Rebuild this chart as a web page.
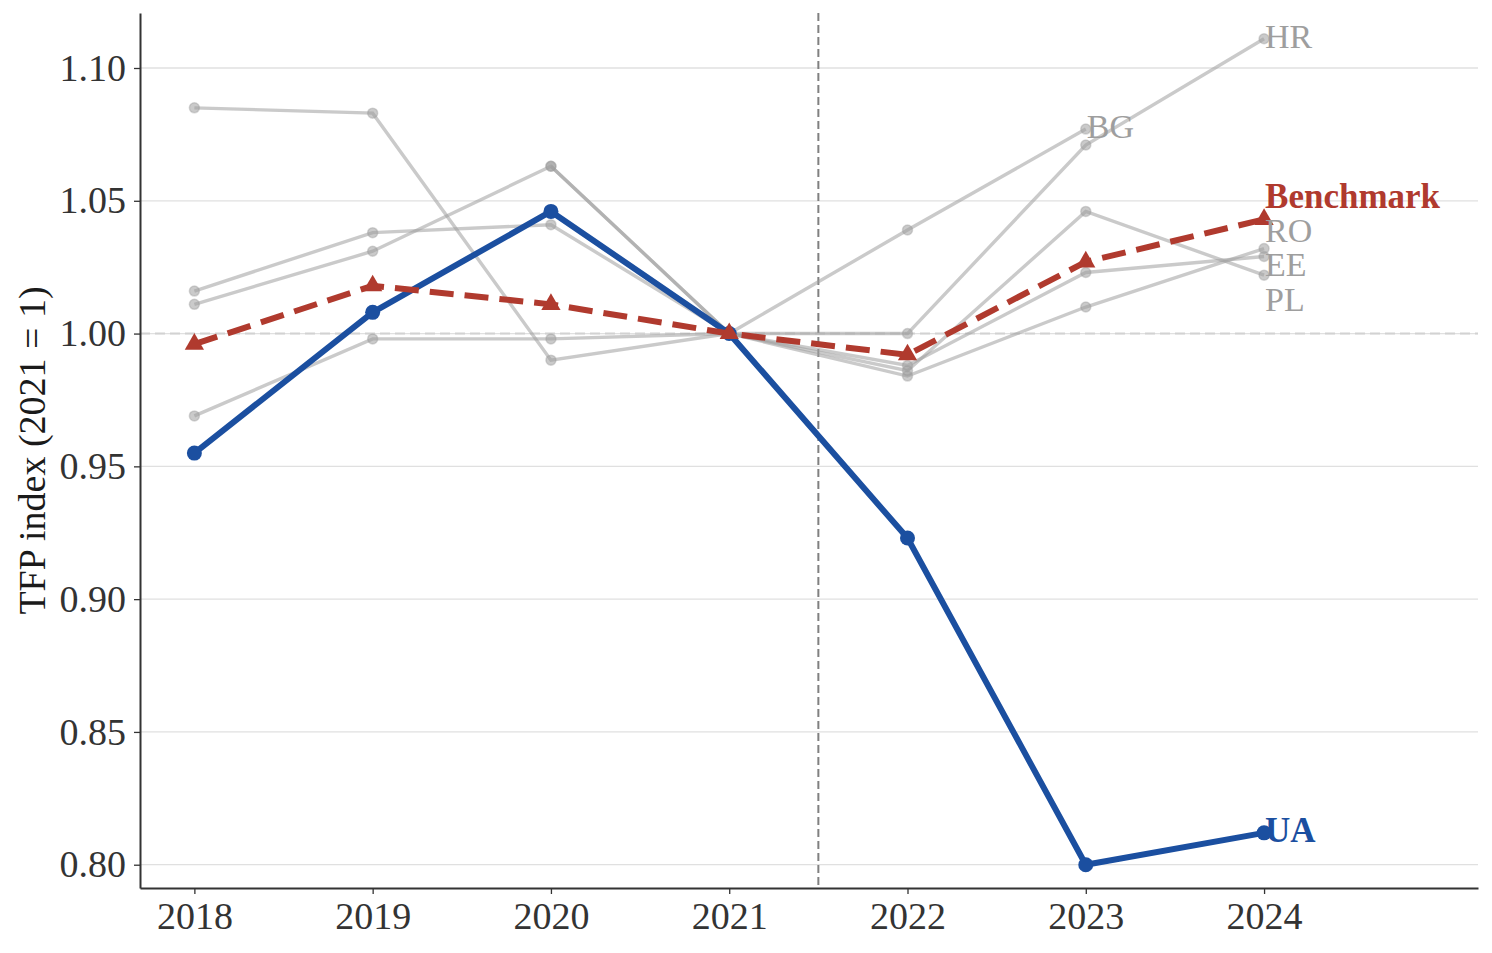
<!DOCTYPE html>
<html>
<head>
<meta charset="utf-8">
<script src="https://cdn.jsdelivr.net/npm/d3@7"></script>
<style>
  html, body { margin: 0; padding: 0; background: #ffffff; }
  svg { display: block; font-family: "Liberation Serif", "Times New Roman", serif; }
</style>
</head>
<body>
<div id="chart"></div>
<script>
const years = [2018, 2019, 2020, 2021, 2022, 2023, 2024];
const yTicks = [0.80, 0.85, 0.90, 0.95, 1.00, 1.05, 1.10];

const uaValues = [0.955, 1.008, 1.046, 1.000, 0.923, 0.800, 0.812];
const benchmarkValues = [0.996, 1.018, 1.011, 1.000, 0.992, 1.027, 1.043];

const peerNames = ["HR", "BG", "RO", "EE", "PL"];
const hrValues = [1.085, 1.083, 0.990, 1.000, 1.000, 1.071, 1.111];
const bgValues = [null, null, 1.063, 1.000, 1.039, 1.077, null];
const roValues = [1.011, 1.031, 1.063, 1.000, 0.984, 1.010, 1.032];
const eeValues = [0.969, 0.998, 0.998, 1.000, 0.988, 1.023, 1.029];
const plValues = [1.016, 1.038, 1.041, 1.000, 0.986, 1.046, 1.022];

const breakYear = 2021.5;

const WIDTH = 1492;
const HEIGHT = 953;
const margin = { top: 13, right: 14, bottom: 65, left: 140 };
const GRAY = "#9e9e9e";
const BLUE = "#1b4fa0";
const RED = "#b03a2e";
const LABEL_GAP = 34.5;

function toPoints(values) {
  return years
    .map((year, index) => ({ year, value: values[index] }))
    .filter((point) => point.value !== null && point.value !== undefined);
}

function repelLabels(labels) {
  // simple 1-d repel for labels that share the same x
  const groups = d3.group(labels, (label) => label.year);
  groups.forEach((group) => {
    group.sort((a, b) => a.y - b.y);
    for (let step = 0; step < 300; step += 1) {
      for (let index = 1; index < group.length; index += 1) {
        const gap = group[index].y - group[index - 1].y;
        if (gap < LABEL_GAP) {
          const push = (LABEL_GAP - gap) / 2;
          group[index - 1].y -= push;
          group[index].y += push;
        }
      }
    }
  });
  return labels;
}

function renderChart() {
  const svg = d3
    .select("#chart")
    .append("svg")
    .attr("width", WIDTH)
    .attr("height", HEIGHT)
    .attr("viewBox", `0 0 ${WIDTH} ${HEIGHT}`);

  svg.append("rect").attr("width", WIDTH).attr("height", HEIGHT).attr("fill", "#ffffff");

  const x = d3
    .scaleLinear()
    .domain([2017.695, 2025.2])
    .range([margin.left, WIDTH - margin.right]);
  const y = d3
    .scaleLinear()
    .domain([0.79123, 1.12071])
    .range([HEIGHT - margin.bottom, margin.top]);

  const plotLeft = margin.left;
  const plotRight = WIDTH - margin.right;
  const plotTop = margin.top;
  const plotBottom = HEIGHT - margin.bottom;

  // grid
  svg
    .append("g")
    .selectAll("line")
    .data(yTicks)
    .join("line")
    .attr("x1", plotLeft)
    .attr("x2", plotRight)
    .attr("y1", (d) => y(d))
    .attr("y2", (d) => y(d))
    .attr("stroke", "#e0e0e0")
    .attr("stroke-width", 1.3);

  // reference at 1.00
  svg
    .append("line")
    .attr("x1", plotLeft)
    .attr("x2", plotRight)
    .attr("y1", y(1))
    .attr("y2", y(1))
    .attr("stroke", "#d2d2d2")
    .attr("stroke-width", 2)
    .attr("stroke-dasharray", "10,5");

  // break line between 2021 and 2022
  svg
    .append("line")
    .attr("x1", x(breakYear))
    .attr("x2", x(breakYear))
    .attr("y1", plotTop)
    .attr("y2", plotBottom)
    .attr("stroke", "#808080")
    .attr("stroke-width", 2)
    .attr("stroke-dasharray", "8,4");

  const line = d3
    .line()
    .x((point) => x(point.year))
    .y((point) => y(point.value));

  const peers = [hrValues, bgValues, roValues, eeValues, plValues].map((values, index) => ({
    name: peerNames[index],
    points: toPoints(values),
  }));

  const peerLayer = svg.append("g");
  peerLayer
    .selectAll("path")
    .data(peers)
    .join("path")
    .attr("d", (peer) => line(peer.points))
    .attr("fill", "none")
    .attr("stroke", GRAY)
    .attr("stroke-opacity", 0.55)
    .attr("stroke-width", 3.4);

  peerLayer
    .selectAll("circle")
    .data(peers.flatMap((peer) => peer.points))
    .join("circle")
    .attr("cx", (point) => x(point.year))
    .attr("cy", (point) => y(point.value))
    .attr("r", 5)
    .attr("fill", GRAY)
    .attr("fill-opacity", 0.55)
    .attr("stroke", GRAY)
    .attr("stroke-opacity", 0.4)
    .attr("stroke-width", 1.5);

  // Ukraine
  const uaPoints = toPoints(uaValues);
  svg
    .append("path")
    .datum(uaPoints)
    .attr("d", line)
    .attr("fill", "none")
    .attr("stroke", BLUE)
    .attr("stroke-width", 6)
    .attr("stroke-linejoin", "round");
  svg
    .append("g")
    .selectAll("circle")
    .data(uaPoints)
    .join("circle")
    .attr("cx", (point) => x(point.year))
    .attr("cy", (point) => y(point.value))
    .attr("r", 7.5)
    .attr("fill", BLUE);

  // Benchmark
  const benchmarkPoints = toPoints(benchmarkValues);
  svg
    .append("path")
    .datum(benchmarkPoints)
    .attr("d", line)
    .attr("fill", "none")
    .attr("stroke", RED)
    .attr("stroke-width", 6)
    .attr("stroke-dasharray", "24,11");
  const triangle = d3.symbol().type(d3.symbolTriangle).size(160);
  svg
    .append("g")
    .selectAll("path")
    .data(benchmarkPoints)
    .join("path")
    .attr("d", triangle)
    .attr("transform", (point) => `translate(${x(point.year)},${y(point.value)})`)
    .attr("fill", RED);

  // end labels
  const labels = peers.map((peer) => {
    const last = peer.points[peer.points.length - 1];
    return { text: peer.name, year: last.year, y: y(last.value), color: GRAY, weight: 400 };
  });
  labels.push({
    text: "Benchmark",
    year: benchmarkPoints[benchmarkPoints.length - 1].year,
    y: y(benchmarkPoints[benchmarkPoints.length - 1].value),
    color: RED,
    weight: 700,
  });
  labels.push({
    text: "UA",
    year: uaPoints[uaPoints.length - 1].year,
    y: y(uaPoints[uaPoints.length - 1].value),
    color: BLUE,
    weight: 700,
  });
  repelLabels(labels);

  svg
    .append("g")
    .selectAll("text")
    .data(labels)
    .join("text")
    .attr("x", (label) => x(label.year) + 1)
    .attr("y", (label) => label.y)
    .attr("dy", "0.27em")
    .attr("fill", (label) => label.color)
    .attr("font-weight", (label) => label.weight)
    .attr("font-size", (label) => (label.weight === 700 ? 35 : 34))
    .text((label) => label.text);

  // axes
  const xAxis = d3
    .axisBottom(x)
    .tickValues(years)
    .tickFormat(d3.format("d"))
    .tickSize(6)
    .tickPadding(8)
    .tickSizeOuter(0);
  const yAxis = d3
    .axisLeft(y)
    .tickValues(yTicks)
    .tickFormat(d3.format(".2f"))
    .tickSize(6)
    .tickPadding(8)
    .tickSizeOuter(0);

  const xAxisGroup = svg
    .append("g")
    .attr("transform", `translate(0,${plotBottom})`)
    .call(xAxis);
  const yAxisGroup = svg
    .append("g")
    .attr("transform", `translate(${plotLeft},0)`)
    .call(yAxis);

  [xAxisGroup, yAxisGroup].forEach((group) => {
    group.select(".domain").attr("stroke", "#333333").attr("stroke-width", 2);
    group.selectAll(".tick line").attr("stroke", "#333333").attr("stroke-width", 1.3);
    group
      .selectAll(".tick text")
      .attr("fill", "#333333")
      .attr("font-size", 38)
      .attr("font-family", "Liberation Serif, Times New Roman, serif");
  });
  xAxisGroup.selectAll(".tick text").attr("dy", "0.72em");

  svg
    .append("text")
    .attr("transform", `translate(45,${(plotTop + plotBottom) / 2}) rotate(-90)`)
    .attr("text-anchor", "middle")
    .attr("fill", "#1a1a1a")
    .attr("font-size", 38)
    .text("TFP index (2021 = 1)");
}

renderChart();
</script>
</body>
</html>
